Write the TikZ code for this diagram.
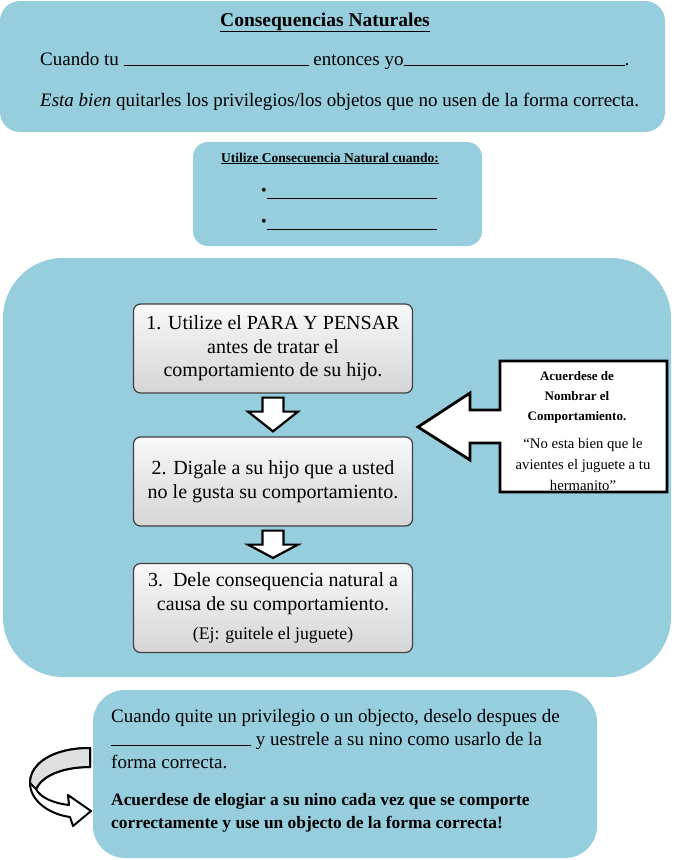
\documentclass[tikz,border=0pt]{standalone}
\usepackage{fontspec}
\setmainfont{Liberation Serif}
\usepackage{xcolor}
\usetikzlibrary{positioning,calc}
\definecolor{panelblue}{RGB}{150,206,222}

\begin{document}
\begin{tikzpicture}[x=1pt,y=-1pt,
  panel/.style={fill=panelblue},
  txt/.style={inner sep=0pt, font=\fontsize{19}{23}\selectfont},
  stepbox/.style={draw=black!75, line width=1.2pt, rounded corners=7pt,
                  top color=gray!5, bottom color=gray!33,
                  minimum width=279pt, minimum height=89pt, inner sep=2pt,
                  align=center, font=\fontsize{20}{23.5}\selectfont},
  blockarr/.style={draw=black, line width=2.2pt, fill=white, line join=miter},
  calloutline/.style={draw=black, line width=2.8pt, fill=white, line join=miter},
  curvearr/.style={draw=black, line width=2pt, fill=white, line join=round},
  blank/.style={inner sep=0pt},
]
\useasboundingbox (0,0) rectangle (673,860);

% Panels
\fill[panel, rounded corners=20pt] (0,1) rectangle (665,132);
\fill[panel, rounded corners=15pt] (193,142) rectangle (482,246);
\fill[panel, rounded corners=60pt] (3,258) rectangle (671,677);
\fill[panel, rounded corners=32pt] (93,690) rectangle (597,858);

% Top panel
\node[txt, anchor=base, font=\fontsize{19.5}{23}\selectfont\bfseries] (title) at (325,26)
  {\underline{Consequencias Naturales}};
\node[txt, anchor=base west] (rule1) at (40,65)
  {Cuando tu \rule[-1pt]{185pt}{0.6pt} entonces yo\rule[-1pt]{221pt}{0.6pt}.};
\node[txt, anchor=base west] (rule2) at (40,106)
  {\textit{Esta bien} quitarles los privilegios/los objetos que no usen de la forma correcta.};

% Second panel
\node[txt, anchor=base, font=\fontsize{13.5}{16}\selectfont\bfseries] (when) at (330,162)
  {\underline{Utilize Consecuencia Natural cuando:}};
\node[blank, anchor=base west, font=\fontsize{12}{14}\selectfont] (bul1) at (261,199)
  {\raisebox{4pt}{\fontsize{16}{16}\selectfont\textbullet}\rule{170pt}{0.6pt}};
\node[blank, anchor=base west, font=\fontsize{12}{14}\selectfont] (bul2) at (261,230)
  {\raisebox{4pt}{\fontsize{16}{16}\selectfont\textbullet}\rule{170pt}{0.6pt}};

% Steps
\node[stepbox] (s1) at (273,348.5)
  {1. Utilize el PARA Y PENSAR\\antes de tratar el\\comportamiento de su hijo.};
\node[stepbox] (s2) at (273,481.5)
  {2. Digale a su hijo que a usted\\no le gusta su comportamiento.};
\node[stepbox] (s3) at (273,608)
  {3.\ \ Dele consequencia natural a\\causa de su comportamiento.\\[6pt]
   {\fontsize{17.7}{20}\selectfont (Ej: guitele el juguete)}};

\foreach \a/\b in {s1/s2, s2/s3}
  \draw[blockarr] ($(\a.south)+(-10.5,4)$) -- ($(\a.south)+(10.5,4)$)
    -- ($(\a.south)+(10.5,18)$) -- ($(\a.south)+(25,18)$) -- ($(\b.north)+(0,-5)$)
    -- ($(\a.south)+(-25,18)$) -- ($(\a.south)+(-10.5,18)$) -- cycle;

% Callout arrow pointing at the steps
\coordinate (cnw) at (500,361);
\coordinate (cse) at (667,492);
\coordinate (ctip) at (418,427);
\draw[calloutline] (cnw) -- (cnw -| cse) -- (cse) -- (cse -| cnw)
  -- ($(cnw)+(0,82)$) -- ($(cnw)+(-30,82)$) -- ($(cnw)+(-30,99)$) -- (ctip)
  -- ($(cnw)+(-30,32)$) -- ($(cnw)+(-30,49)$) -- ($(cnw)+(0,49)$) -- cycle;
\node[inner sep=0pt, align=center, font=\fontsize{13}{20}\selectfont\bfseries] (notehead) at (577,397)
  {Acuerdese de\\Nombrar el\\Comportamiento.};
\node[inner sep=0pt, align=center, font=\fontsize{14.7}{21}\selectfont] (notequote) at (583,464)
  {``No esta bien que le\\avientes el juguete a tu\\hermanito''};

% Bottom panel (base = last line)
\node[txt, anchor=base west, align=left] (back) at (111,768)
  {Cuando quite un privilegio o un objecto, deselo despues de\\
   \rule[-1pt]{140pt}{0.6pt} y uestrele a su nino como usarlo de la\\
   forma correcta.};
\node[txt, anchor=base west, align=left, font=\fontsize{17.4}{23}\selectfont\bfseries] (praise) at (111,828)
  {Acuerdese de elogiar a su nino cada vez que se comporte\\
   correctamente y use un objecto de la forma correcta!};

% Curved arrow
\draw[curvearr] (90,748) .. controls (52,748) and (30,764) .. (30,783)
  .. controls (30,800) and (48,814) .. (70,817) -- (73,826) -- (91,811) -- (68,795)
  -- (69,805) .. controls (52,803) and (40,797) .. (36,789)
  .. controls (42,776) and (62,767) .. (90,767) -- cycle;
\draw[curvearr, fill=gray!25] (90,748) .. controls (52,748) and (30,764) .. (30,783)
  -- (36,789) .. controls (42,776) and (62,767) .. (90,767) -- cycle;
\end{tikzpicture}
\end{document}
